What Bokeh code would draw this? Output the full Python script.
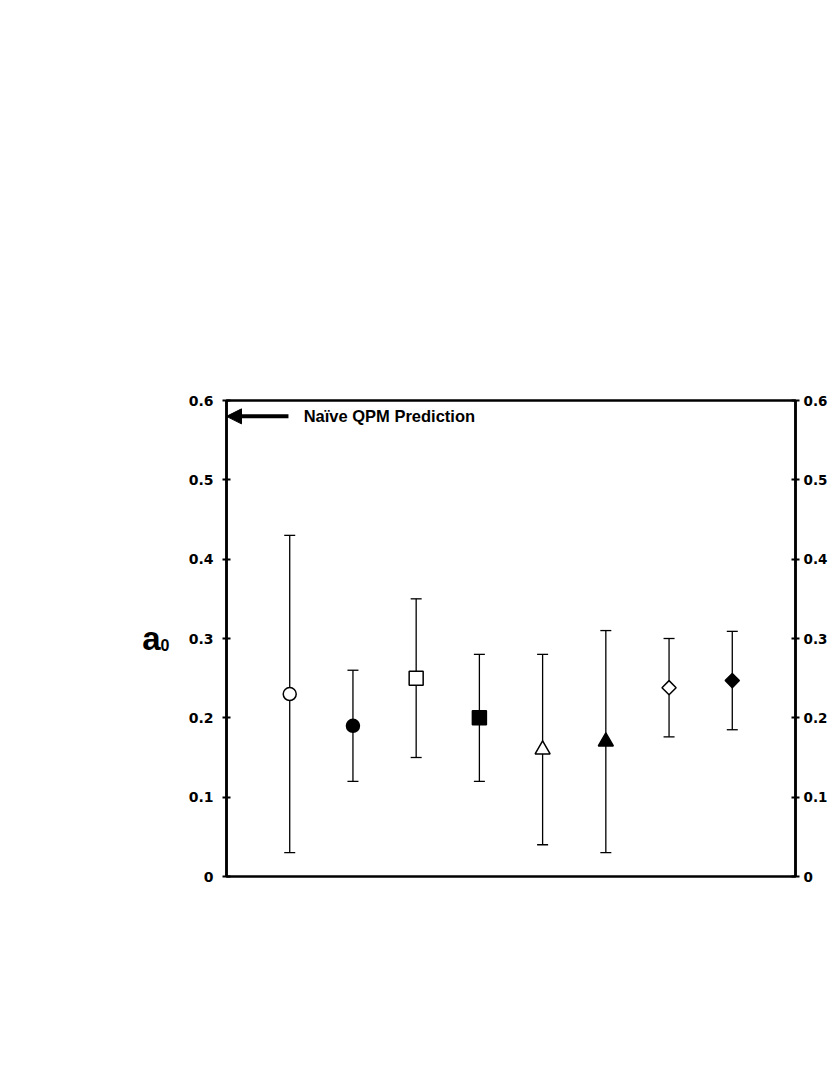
from math import pi

from bokeh.plotting import figure
from bokeh.models import (ColumnDataSource, FixedTicker, LinearAxis, Range1d,
                          Whisker, TeeHead, Arrow, NormalHead, Label)
from bokeh.embed import file_html
from bokeh.resources import INLINE

# -- data (left to right)
positions = [1, 2, 3, 4, 5, 6, 7, 8]
a0 = [0.23, 0.19, 0.25, 0.20, 0.16, 0.17, 0.238, 0.247]
a0_low = [0.03, 0.12, 0.15, 0.12, 0.04, 0.03, 0.176, 0.185]
a0_high = [0.43, 0.26, 0.35, 0.28, 0.28, 0.31, 0.30, 0.309]
shapes = ["circle", "circle", "square", "square", "triangle", "triangle", "diamond", "diamond"]
filled = [False, True, False, True, False, True, False, True]

qpm_prediction = 0.58
prediction_label = "Naïve QPM Prediction"

tick_values = [0, 0.1, 0.2, 0.3, 0.4, 0.5, 0.6]
tick_labels = ["0", "0.1", "0.2", "0.3", "0.4", "0.5", "0.6"]

# -- marker look per shape (diamond = square turned 45 degrees)
MARKERS = {
    "circle": dict(marker="circle", size=13, angle=0),
    "square": dict(marker="square", size=14, angle=0),
    "triangle": dict(marker="triangle", size=15, angle=0),
    "diamond": dict(marker="square", size=10, angle=pi / 4),
}

p = figure(x_range=Range1d(0, 9), y_range=Range1d(0, 0.6),
           frame_width=569, frame_height=476,
           min_border_left=226, min_border_top=400,
           min_border_right=0, min_border_bottom=180,
           x_axis_location=None, y_axis_location="left",
           output_backend="svg", toolbar_location=None)
p.xgrid.grid_line_color = None
p.ygrid.grid_line_color = None
p.outline_line_color = "black"
p.outline_line_width = 2.5
p.outline_line_alpha = 1.0

right_axis = LinearAxis()
p.add_layout(right_axis, "right")

for ax in (p.yaxis[0], right_axis):
    ax.ticker = FixedTicker(ticks=tick_values)
    ax.major_label_overrides = dict(zip(tick_values, tick_labels))
    ax.axis_line_width = 2.5
    ax.major_tick_line_width = 2
    ax.major_tick_in = 4
    ax.major_tick_out = 4
    ax.minor_tick_line_color = None
    ax.major_label_text_color = "black"
    ax.major_label_text_font = "DejaVu Sans"
    ax.major_label_text_font_style = "bold"
    ax.major_label_text_font_size = "14px"
    ax.major_label_standoff = 9
# right labels kept inside the window
right_axis.major_label_text_font_size = "13.5px"
right_axis.major_label_standoff = 4

# -- "a0" title: an extra bare axis, "a" as its label, the subscript as its only tick label
sub_y = 0.292
title_axis = LinearAxis(ticker=FixedTicker(ticks=[sub_y]),
                        major_label_overrides={sub_y: "0"},
                        axis_label="a", axis_label_orientation="horizontal")
title_axis.axis_line_color = None
title_axis.major_tick_line_color = None
title_axis.minor_tick_line_color = None
title_axis.major_tick_in = 0
title_axis.major_tick_out = 0
title_axis.major_label_standoff = 16
title_axis.major_label_text_color = "black"
title_axis.major_label_text_font = "Liberation Sans"
title_axis.major_label_text_font_style = "bold"
title_axis.major_label_text_font_size = "16px"
title_axis.axis_label_standoff = -3
title_axis.axis_label_text_color = "black"
title_axis.axis_label_text_font = "Liberation Sans"
title_axis.axis_label_text_font_style = "bold"
title_axis.axis_label_text_font_size = "33px"
p.add_layout(title_axis, "left")

# -- error bars
err_src = ColumnDataSource(data=dict(x=positions, lower=a0_low, upper=a0_high))
p.add_layout(Whisker(base="x", lower="lower", upper="upper", source=err_src,
                     dimension="height", line_width=1.3, line_color="black",
                     upper_head=TeeHead(size=11, line_width=1.3, line_color="black"),
                     lower_head=TeeHead(size=11, line_width=1.3, line_color="black")))

# -- points
for i, shape in enumerate(shapes):
    style = MARKERS[shape]
    src = ColumnDataSource(data=dict(x=[positions[i]], y=[a0[i]]))
    p.scatter(x="x", y="y", source=src, marker=style["marker"], size=style["size"],
              angle=style["angle"], line_color="black", line_width=1.5,
              fill_color="black" if filled[i] else "white")

# -- prediction arrow
p.add_layout(Arrow(x_start=0.98, y_start=qpm_prediction, x_end=0, y_end=qpm_prediction,
                   line_width=4, line_color="black",
                   end=NormalHead(size=15, fill_color="black", line_color="black")))
p.add_layout(Label(x=1.22, y=qpm_prediction, text=prediction_label,
                   text_color="black", text_font="Liberation Sans",
                   text_font_style="bold", text_font_size="16.5px",
                   text_baseline="middle"))

open("out.html", "w").write(file_html(p, INLINE))
